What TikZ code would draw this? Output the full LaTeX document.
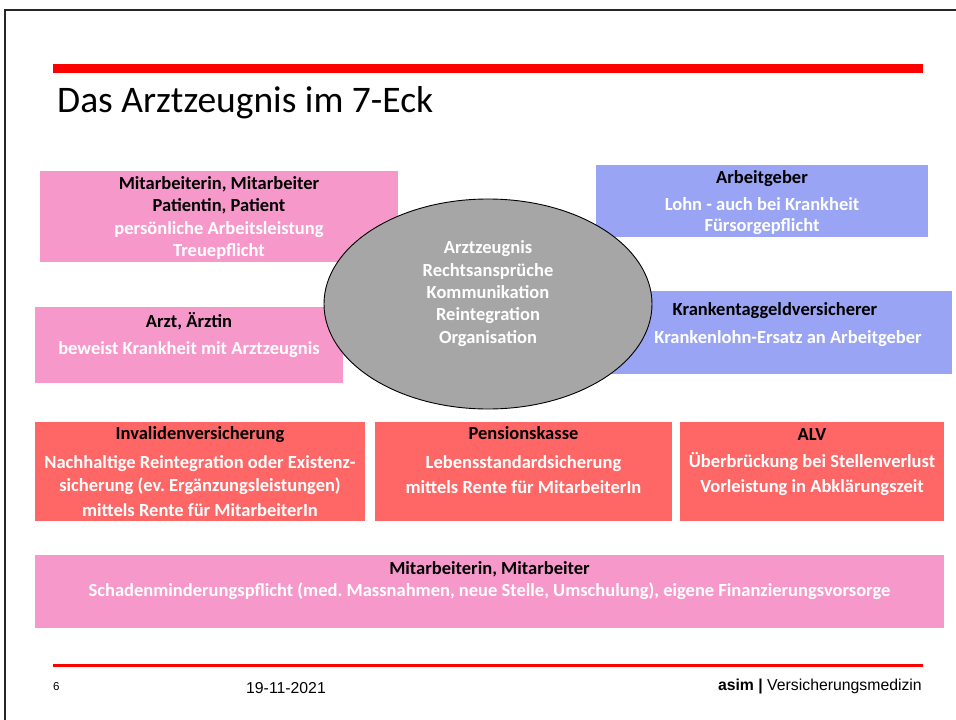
\documentclass[tikz,border=0pt]{standalone}
\usepackage{fontspec}
\setmainfont{Carlito}
\newfontfamily\footfont{Liberation Sans}
\usetikzlibrary{positioning,shapes.geometric}
\definecolor{asimred}{RGB}{255,0,0}
\definecolor{boxpink}{RGB}{247,152,202}
\definecolor{boxblue}{RGB}{153,164,244}
\definecolor{boxred}{RGB}{255,102,102}
\definecolor{ellgray}{RGB}{166,166,166}
\frenchspacing

\begin{document}
\begin{tikzpicture}[
    x=1pt, y=-1pt,
    box/.style={rectangle, anchor=north west, inner sep=0pt, outer sep=0pt},
    pinkbox/.style={box, fill=boxpink},
    bluebox/.style={box, fill=boxblue},
    redbox/.style={box, fill=boxred},
    txt/.style={align=center, text=white, inner sep=0pt,
      font=\fontsize{18.5}{22.3}\selectfont\bfseries},
    foot/.style={inner sep=0pt, font=\footfont\fontsize{15.8}{18}\selectfont}
  ]
  \useasboundingbox (0,0) rectangle (956,720);
  % slide frame and red bars
  \draw[line width=2pt, black!85] (5,720) -- (5,9.5) -- (956,9.5);
  \fill[asimred] (53,64) rectangle (923,73);
  \draw[asimred, line width=2.5pt] (53,665.5) -- (923,665.5);

  \node[anchor=base west, inner sep=0pt, font=\fontsize{37.5}{44}\selectfont] (title) at (57,112) {Das Arztzeugnis im 7-Eck};

  % boxes
  \node[pinkbox, minimum width=358pt, minimum height=91pt] (mitbox) at (40,171) {};
  \node[bluebox, minimum width=332pt, minimum height=72pt] (agbox) at (596,165) {};
  \node[pinkbox, minimum width=308pt, minimum height=76pt] (arztbox) at (35,307) {};
  \node[bluebox, minimum width=342pt, minimum height=83pt] (ktgbox) at (610,291) {};
  \node[redbox, minimum width=330pt, minimum height=99pt] (ivbox) at (35,422) {};
  \node[redbox, minimum width=297pt, minimum height=99pt] (pkbox) at (375,422) {};
  \node[redbox, minimum width=264pt, minimum height=99pt] (alvbox) at (680,422) {};
  \node[pinkbox, minimum width=909pt, minimum height=73pt] (pflichtbox) at (35,555) {};

  % ellipse in the middle
  \node[ellipse, draw=black, line width=0.9pt, fill=ellgray, minimum width=328pt, minimum height=210pt, inner sep=0pt] (zeugnis) at (488,304) {};
  \node[txt] (zeugnistxt) at (488,293.5) {Arztzeugnis\\Rechtsansprüche\\Kommunikation\\Reintegration\\Organisation};

  % texts
  \node[txt] (mittxt) at (219,218) {\textcolor{black}{Mitarbeiterin, Mitarbeiter}\\\textcolor{black}{Patientin, Patient}\\persönliche Arbeitsleistung\\Treuepflicht};
  \node[txt] (agtxt) at (762,202.5) {\textcolor{black}{Arbeitgeber}\\[4.7pt]Lohn - auch bei Krankheit\\[-1.3pt]Fürsorgepflicht};
  \node[txt] (arzttxt) at (189,335) {\textcolor{black}{Arzt, Ärztin}\\[4.7pt]beweist Krankheit mit Arztzeugnis};
  \node[txt] (ktgtxt) at (788,324.5) {\textcolor{black}{Krankentaggeldversicherer}\rule{26pt}{0pt}\\[5.7pt]Krankenlohn-Ersatz an Arbeitgeber};
  \node[txt] (ivtxt) at (200,471.5) {\textcolor{black}{Invalidenversicherung}\\[6.7pt]Nachhaltige Reintegration oder Existenz-\\[0.7pt]sicherung (ev. Ergänzungsleistungen)\\[2.7pt]mittels Rente für MitarbeiterIn};
  \node[txt] (pktxt) at (523.5,460) {\textcolor{black}{Pensionskasse}\\[6.7pt]Lebensstandardsicherung\\[2.7pt]mittels Rente für MitarbeiterIn};
  \node[txt] (alvtxt) at (812,462) {\textcolor{black}{ALV}\\[4.7pt]Überbrückung bei Stellenverlust\\[2.7pt]Vorleistung in Abklärungszeit};
  \node[txt] (pflichttxt) at (489.5,580.5) {\textcolor{black}{Mitarbeiterin, Mitarbeiter}\\Schadenminderungspflicht (med. Massnahmen, neue Stelle, Umschulung), eigene Finanzierungsvorsorge};

  % footer
  \node[foot, anchor=base west, font=\footfont\fontsize{11.5}{14}\selectfont] (seite) at (53,690) {6};
  \node[foot, anchor=base] (datum) at (286,693) {19-11-2021};
  \node[foot, anchor=base east] (marke) at (922,690) {\textbf{asim |} Versicherungsmedizin};
\end{tikzpicture}
\end{document}
